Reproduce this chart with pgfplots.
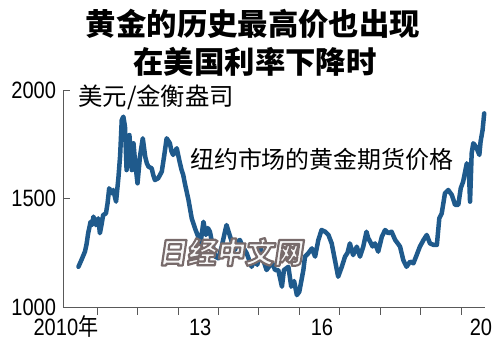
\documentclass[border=0pt]{standalone}
\usepackage{fontspec}
\usepackage{pgfplots}
\pgfplotsset{compat=1.18}
\setmainfont{Liberation Sans}
\newfontfamily\cjk{Noto Sans CJK SC}
\definecolor{gold}{RGB}{31,90,140}
\begin{document}
\begin{tikzpicture}[x=1bp,y=1bp]
\useasboundingbox (0,0) rectangle (500,352);
\fill[white] (0,0) rectangle (500,352);
\node[anchor=base, inner sep=0pt, font=\cjk\bfseries\fontsize{30.5}{31}\selectfont] at (253,317) {黄金的历史最高价也出现};
\node[anchor=base, inner sep=0pt, font=\cjk\bfseries\fontsize{30.5}{31}\selectfont] at (255,279) {在美国利率下降时};
\begin{axis}[at={(63bp,45bp)}, anchor=south west, scale only axis,
  width=422bp, height=216.3bp,
  xmin=2010.158, xmax=2020.59, ymin=1000, ymax=2000,
  axis x line*=bottom, axis y line*=left,
  x axis line style={-}, y axis line style={-},
  axis line style={black!65, line width=0.8bp},
  every tick/.style={black!65, line width=0.8bp},
  xtick align=outside, ytick align=inside,
  major tick length=7.5bp,
  xtick={2011,2012,...,2020}, xticklabels={},
  extra x ticks={2010.23,2013.55,2016.56,2020.49},
  extra x tick labels={2010{\cjk 年},13,16,20},
  extra x tick style={major tick length=0pt},
  xticklabel style={font=\fontsize{23.7}{24}\selectfont, xscale=0.85, inner sep=0pt, anchor=base, yshift=-28bp},
  ytick={1000,1500,2000}, yticklabels={1000,1500,2000},
  yticklabel style={font=\fontsize{23.7}{24}\selectfont, xscale=0.85, inner sep=0pt, anchor=east, xshift=-8bp},
  clip=false,
]
\addplot[gold, line width=4.5bp, line join=round, line cap=round] table {
x y
2010.54 1186
2010.62 1220
2010.70 1256
2010.74 1290
2010.78 1341
2010.84 1394
2010.88 1380
2010.91 1418
2010.97 1379
2011.03 1410
2011.07 1341
2011.11 1380
2011.15 1425
2011.22 1433
2011.26 1480
2011.30 1549
2011.36 1526
2011.40 1541
2011.47 1487
2011.53 1602
2011.57 1700
2011.61 1864
2011.65 1880
2011.69 1834
2011.73 1633
2011.80 1795
2011.86 1633
2011.90 1757
2011.94 1672
2012.00 1572
2012.06 1695
2012.13 1780
2012.19 1695
2012.23 1665
2012.27 1649
2012.35 1641
2012.39 1610
2012.43 1587
2012.51 1595
2012.60 1626
2012.66 1700
2012.72 1780
2012.80 1757
2012.84 1720
2012.88 1703
2012.97 1734
2013.04 1672
2013.09 1633
2013.13 1610
2013.17 1572
2013.26 1495
2013.34 1410
2013.42 1364
2013.50 1325
2013.55 1279
2013.59 1340
2013.63 1394
2013.69 1333
2013.74 1365
2013.79 1348
2013.83 1310
2013.92 1233
2014.00 1225
2014.08 1279
2014.14 1330
2014.20 1379
2014.29 1325
2014.35 1290
2014.41 1264
2014.47 1300
2014.53 1310
2014.60 1280
2014.70 1248
2014.82 1186
2014.90 1217
2014.96 1195
2015.05 1270
2015.11 1217
2015.19 1171
2015.28 1194
2015.34 1200
2015.40 1171
2015.48 1171
2015.57 1094
2015.62 1171
2015.73 1186
2015.80 1094
2015.87 1120
2015.94 1055
2016.00 1071
2016.10 1171
2016.14 1233
2016.22 1248
2016.31 1271
2016.39 1233
2016.47 1310
2016.55 1356
2016.64 1348
2016.72 1333
2016.80 1294
2016.88 1217
2016.96 1140
2017.05 1186
2017.13 1233
2017.19 1250
2017.25 1294
2017.33 1240
2017.42 1279
2017.50 1233
2017.58 1279
2017.66 1348
2017.70 1320
2017.75 1302
2017.81 1280
2017.87 1294
2017.95 1256
2018.04 1325
2018.12 1356
2018.20 1341
2018.28 1348
2018.37 1310
2018.43 1295
2018.49 1279
2018.57 1217
2018.65 1186
2018.74 1210
2018.82 1202
2018.90 1240
2018.98 1279
2019.07 1310
2019.15 1333
2019.23 1294
2019.32 1287
2019.40 1287
2019.46 1410
2019.52 1433
2019.60 1526
2019.68 1541
2019.77 1518
2019.85 1472
2019.93 1472
2019.99 1549
2020.05 1580
2020.14 1664
2020.19 1640
2020.22 1487
2020.26 1711
2020.30 1757
2020.37 1741
2020.45 1703
2020.48 1764
2020.53 1818
2020.57 1895
};
\end{axis}
\node[anchor=base west, inner sep=0pt, font=\cjk\fontsize{24.5}{25}\selectfont] at (78,246.6) {美元/金衡盎司};
\node[anchor=base west, inner sep=0pt, font=\cjk\fontsize{24}{25}\selectfont] at (190,183.7) {纽约市场的黄金期货价格};
\node[inner sep=0pt, xslant=0.15, font=\cjk\bfseries\fontsize{29}{30}\selectfont] at (232,100) {\special{pdf:code q 0.47 0.42 0.42 RG 0.97 0.97 0.97 rg 2 Tr 2.2 w 1 j}日经中文网\special{pdf:code Q}};
\end{tikzpicture}
\end{document}
